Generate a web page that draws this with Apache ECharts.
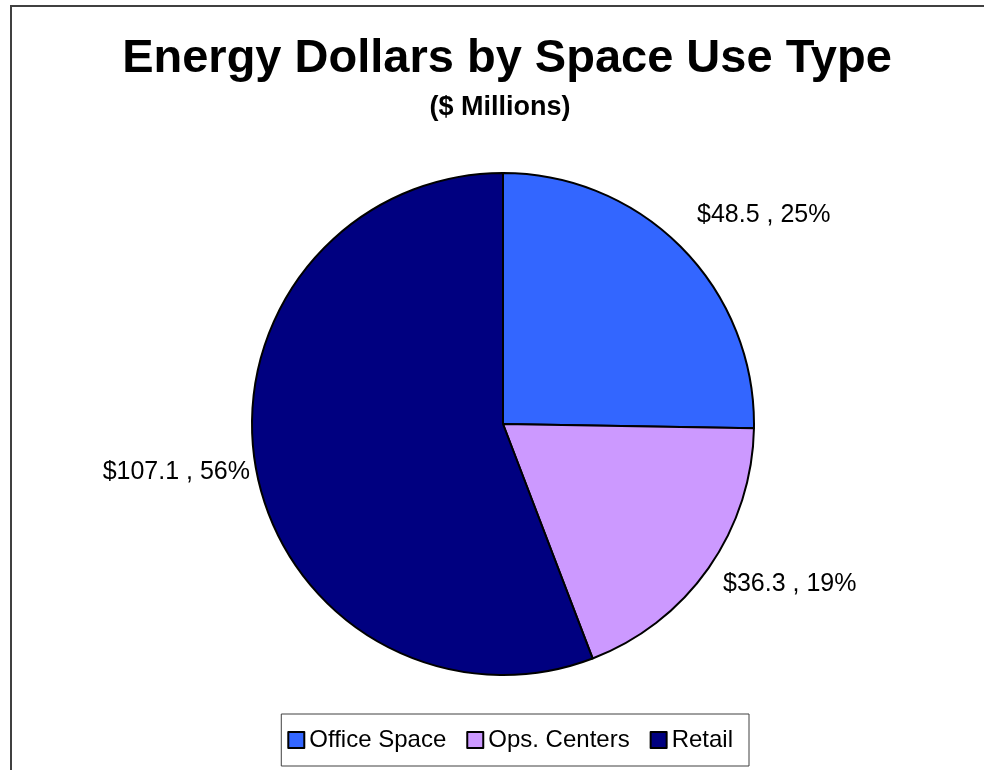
<!DOCTYPE html>
<html><head><meta charset="utf-8">
<script src="https://cdn.jsdelivr.net/npm/echarts@6/dist/echarts.min.js"></script>
<style>html,body{margin:0;padding:0;background:#fff}#c{width:984px;height:770px}</style>
</head><body><div id="c"></div>
<script>
const categories = ['Office Space', 'Ops. Centers', 'Retail'];
const values = [48.5, 36.3, 107.1];
const percents = [25, 19, 56];
const colors = ['#3366FF', '#CC99FF', '#000080'];
const titleText = 'Energy Dollars by Space Use Type';
const subtitleText = '($ Millions)';
const labelPos = [[697, 215, 'left'], [723, 584, 'left'], [250, 472, 'right']];

const chart = echarts.init(document.getElementById('c'), null, {renderer: 'canvas'});
chart.setOption({
  animation: false,
  backgroundColor: '#fff',
  graphic: [{
    type: 'rect', shape: {x: 11, y: 6, width: 1000, height: 800},
    style: {fill: 'none', stroke: '#404040', lineWidth: 2}, z: -1
  }, {
    type: 'text', x: 507, y: 59,
    style: {text: titleText, fill: '#000', font: 'bold 47px "Liberation Sans", Arial', align: 'center', verticalAlign: 'middle'}
  }, {
    type: 'text', x: 500, y: 108,
    style: {text: subtitleText, fill: '#000', font: 'bold 27px "Liberation Sans", Arial', align: 'center', verticalAlign: 'middle'}
  }],
  legend: {
    bottom: 4, right: 235, orient: 'horizontal',
    data: categories,
    itemWidth: 16, itemHeight: 16, itemGap: 20,
    borderColor: '#404040', borderWidth: 1, padding: [14, 16, 14, 6],
    icon: 'rect',
    textStyle: {fontFamily: 'Liberation Sans, Arial', fontSize: 24, color: '#000'},
    itemStyle: {borderColor: '#000', borderWidth: 2}
  },
  series: [{
    type: 'pie',
    center: [503, 424], radius: 251,
    startAngle: 90, clockwise: true,
    data: categories.map((n, i) => ({name: n, value: values[i], itemStyle: {color: colors[i]}})),
    itemStyle: {borderColor: '#000', borderWidth: 2},
    label: {
      show: true, position: 'outside',
      formatter: p => '$' + values[p.dataIndex].toFixed(1) + ' , ' + percents[p.dataIndex] + '%',
      fontFamily: 'Liberation Sans, Arial', fontSize: 25, color: '#000'
    },
    labelLine: {show: false},
    labelLayout: p => ({x: labelPos[p.dataIndex][0], y: labelPos[p.dataIndex][1], align: labelPos[p.dataIndex][2], verticalAlign: 'middle'}),
    emphasis: {disabled: true}
  }]
});
</script></body></html>
